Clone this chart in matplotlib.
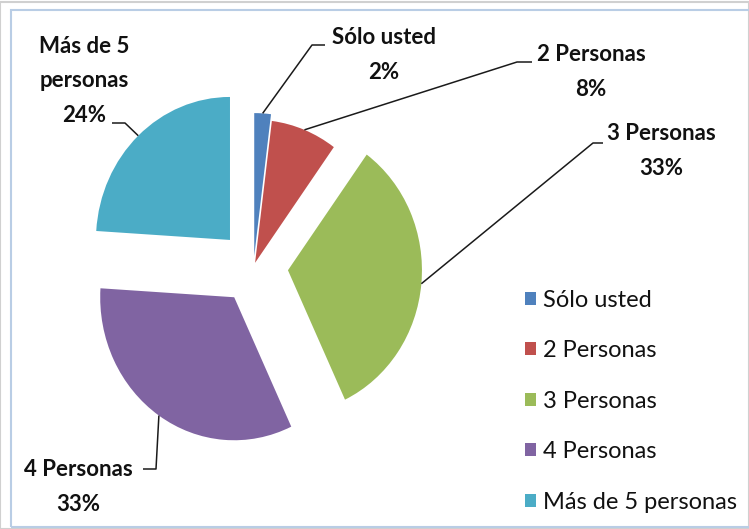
import numpy as np
import matplotlib.pyplot as plt
from matplotlib.patches import Rectangle

plt.rcParams['font.family'] = ['Lato', 'DejaVu Sans']

categorias = ["Sólo usted", "2 Personas", "3 Personas", "4 Personas", "Más de 5 personas"]
porcentajes = [2, 8, 33, 33, 24]
etiquetas = ["Sólo usted", "2 Personas", "3 Personas", "4 Personas", "Más de 5\npersonas"]
colores = ["#4F81BD", "#C0504D", "#9BBB59", "#8064A2", "#4BACC6"]
separacion = [0.075, 0.03, 0.2575, 0.2575, 0.2575]

W, H = 749, 529
fig = plt.figure(figsize=(W / 100, H / 100), dpi=100)
ax = fig.add_axes([0, 0, 1, 1])

# pixel geometry of the pie (image is slightly stretched vertically)
cx, cy = 253.6, 266.8
rx, ry = 134.0, 143.0


def px(x, y):
    return (x - cx) / rx, (cy - y) / ry


wedges, _ = ax.pie(porcentajes, explode=separacion, colors=colores,
                   startangle=90, counterclock=False, radius=1,
                   wedgeprops=dict(linewidth=0))
ax.set_aspect('auto')
ax.set_xlim(px(0, 0)[0], px(W, 0)[0])
ax.set_ylim(px(0, H)[1], px(0, 0)[1])
ax.axis('off')

# label layout (pixels): elbow, end of leader, text centre
layout = [
    ((312, 45), (325, 45), (384, 55)),
    ((517, 62), (532, 62), (591, 72)),
    ((593, 143), (603, 143), (661, 151)),
    ((156, 469), (143, 469), (78, 487)),
    ((125, 123), (112, 123), (84, 81)),
]

for w, et, val, (codo, fin, txt) in zip(wedges, etiquetas, porcentajes, layout):
    mid = np.deg2rad((w.theta1 + w.theta2) / 2)
    x0 = w.center[0] + w.r * np.cos(mid)
    y0 = w.center[1] + w.r * np.sin(mid)
    xs = [x0, px(*codo)[0], px(*fin)[0]]
    ys = [y0, px(*codo)[1], px(*fin)[1]]
    ax.plot(xs, ys, color="#1a1a1a", lw=1.1, solid_capstyle='butt')
    ax.text(*px(*txt), f"{et}\n{val}%", ha='center', va='center',
            multialignment='center', fontsize=16, fontweight='bold',
            linespacing=1.8, color="#111111")

leg = ax.legend(wedges, categorias, loc='upper left',
                bbox_to_anchor=(525 / W, 1 - 290 / H), frameon=False,
                fontsize=17, handlelength=0.47, handleheight=0.47,
                handletextpad=0.3, labelspacing=1.245, borderpad=0,
                borderaxespad=0)
for t in leg.get_texts():
    t.set_color("#111111")

# chart frame
fig.patches.append(Rectangle((0, 0), 1, 1 - 2 / H, transform=fig.transFigure,
                             fill=False, edgecolor="#d0d0d0", lw=1.5))
fig.patches.append(Rectangle((11 / W, 2 / H), 1.2, 1 - 12 / H,
                             transform=fig.transFigure, fill=False,
                             edgecolor="#b9cde5", lw=1.5))

fig.savefig("out.png", dpi=100)
